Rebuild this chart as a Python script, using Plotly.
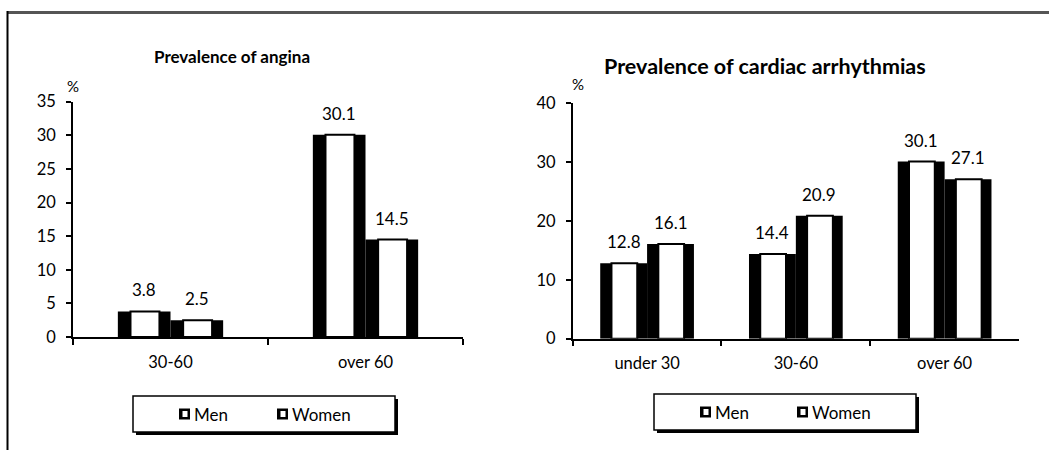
import plotly.graph_objects as go

# ---- data ----
angina_groups = ["30-60", "over 60"]
angina_men = [3.8, 30.1]
angina_women = [2.5, 14.5]

arrh_groups = ["under 30", "30-60", "over 60"]
arrh_men = [12.8, 14.4, 30.1]
arrh_women = [16.1, 20.9, 27.1]

series_names = ["Men", "Women"]

W, H = 1049, 450
FONT = "Lato"


def px(x):
    return x / W


def py(y):
    return 1 - y / H


fig = go.Figure()


def add_bars(groups, men, women, xa, ya, bw):
    # each bar: a black block with a narrower white face inside
    inner_start = 0.24 * bw
    inner_w = 0.55 * bw
    for vals, off in ((men, -bw), (women, 0.0)):
        fig.add_trace(go.Bar(
            x=groups, y=vals, xaxis=xa, yaxis=ya,
            width=bw, offset=off,
            marker=dict(color="black", line=dict(width=0)),
            showlegend=False, hoverinfo="skip"))
        fig.add_trace(go.Bar(
            x=groups, y=vals, xaxis=xa, yaxis=ya,
            width=inner_w, offset=off + inner_start,
            marker=dict(color="white", line=dict(color="black", width=2)),
            showlegend=False, hoverinfo="skip"))
        for i, v in enumerate(vals):
            fig.add_annotation(
                x=i + off + bw / 2, y=v, xref=xa, yref=ya,
                text=f"{v:.1f}", showarrow=False,
                xanchor="center", yanchor="bottom",
                yshift=9, font=dict(family=FONT, size=17, color="black"))


add_bars(angina_groups, angina_men, angina_women, "x", "y", 0.27)
add_bars(arrh_groups, arrh_men, arrh_women, "x2", "y2", 0.315)

axis_common = dict(
    showline=True, linecolor="black", linewidth=1.5,
    showgrid=False, zeroline=False,
    ticks="outside", ticklen=5, tickcolor="black", tickwidth=1.5,
    tickfont=dict(family=FONT, size=16.5, color="black"),
    fixedrange=True, automargin=False,
)
xaxis_extra = dict(type="category", tickson="boundaries", ticklen=6,
                   ticklabelstandoff=9)
yaxis_extra = dict(ticklabelstandoff=7)

fig.update_layout(
    width=W, height=H,
    margin=dict(l=0, r=0, t=0, b=0, pad=0, autoexpand=False),
    paper_bgcolor="white", plot_bgcolor="white",
    barmode="overlay", showlegend=False,
    font=dict(family=FONT, color="black"),
    xaxis=dict(domain=[px(73), px(463)], anchor="y", range=[-0.5, 1.5],
               **axis_common | xaxis_extra),
    yaxis=dict(domain=[py(337), py(101.7)], anchor="x", range=[0, 35],
               tickvals=[0, 5, 10, 15, 20, 25, 30, 35],
               **axis_common | yaxis_extra),
    xaxis2=dict(domain=[px(572.7), px(1019)], anchor="y2", range=[-0.5, 2.5],
                **axis_common | xaxis_extra),
    yaxis2=dict(domain=[py(338.7), py(103.3)], anchor="x2", range=[0, 40],
                tickvals=[0, 10, 20, 30, 40], **axis_common | yaxis_extra),
)


def label(x, y, text, size, bold=False, xanchor="center"):
    fig.add_annotation(x=px(x), y=py(y), xref="paper", yref="paper",
                       text=f"<b>{text}</b>" if bold else text, showarrow=False,
                       xanchor=xanchor, yanchor="middle",
                       font=dict(family=FONT, size=size, color="black"))


# titles and unit labels
label(232, 56, "Prevalence of angina", 17, bold=True)
label(765, 66, "Prevalence of cardiac arrhythmias", 21.5, bold=True)
label(73, 86, "%", 15)
label(578, 84, "%", 15)

# page frame
fig.add_shape(type="line", xref="paper", yref="paper",
              x0=px(7), x1=1, y0=py(12.5), y1=py(12.5),
              line=dict(color="#555555", width=3))
fig.add_shape(type="line", xref="paper", yref="paper",
              x0=px(7.5), x1=px(7.5), y0=py(11), y1=0,
              line=dict(color="black", width=2))


def add_legend(x0, x1, y0, y1, item_x):
    # shadow then box
    fig.add_shape(type="rect", xref="paper", yref="paper",
                  x0=px(x0 + 3), x1=px(x1 + 3), y0=py(y1 + 3), y1=py(y0 + 3),
                  fillcolor="black", line=dict(width=0))
    fig.add_shape(type="rect", xref="paper", yref="paper",
                  x0=px(x0), x1=px(x1), y0=py(y1), y1=py(y0),
                  fillcolor="white", line=dict(color="black", width=1.5))
    yc = (y0 + y1) / 2
    for name, ix in zip(series_names, item_x):
        fig.add_shape(type="rect", xref="paper", yref="paper",
                      x0=px(ix), x1=px(ix + 11), y0=py(yc + 5.5), y1=py(yc - 5.5),
                      fillcolor="black", line=dict(width=0))
        fig.add_shape(type="rect", xref="paper", yref="paper",
                      x0=px(ix + 3.5), x1=px(ix + 8.5), y0=py(yc + 3), y1=py(yc - 3),
                      fillcolor="white", line=dict(width=0))
        label(ix + 13, yc, name, 17, xanchor="left")


add_legend(133, 395, 396, 432, [179, 277])
add_legend(654, 916, 394, 430, [700, 797])

fig.write_html("out.html")
